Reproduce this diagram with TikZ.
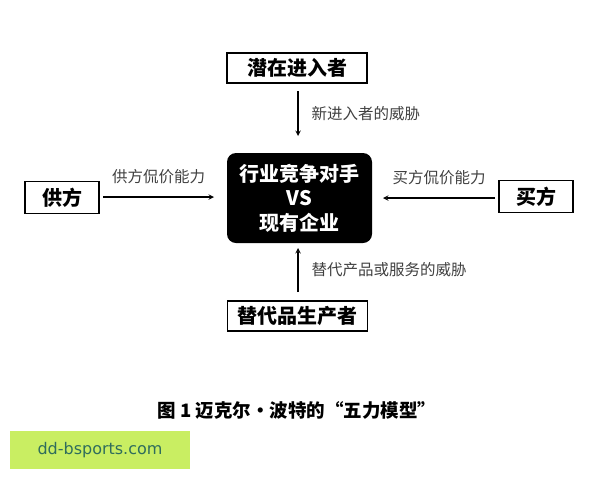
\documentclass[tikz,border=0pt]{standalone}
\usepackage{fontspec}
\newfontfamily\cjk{Noto Sans CJK SC}
\setmainfont{Noto Sans CJK SC}
\usetikzlibrary{arrows, shapes, positioning}
\definecolor{tagbg}{HTML}{C9EE62}
\definecolor{tagfg}{HTML}{2F6D5C}

\begin{document}
\begin{tikzpicture}[x=1pt, y=-1pt, >=stealth,
    force/.style={draw, line width=1.6pt, minimum width=140pt, minimum height=30pt, inner sep=0pt, font=\cjk\bfseries\fontsize{20}{21}\selectfont},
    side/.style={force, minimum width=74pt, minimum height=32pt},
    core/.style={fill=black, text=white, rounded corners=9pt, minimum width=145pt, minimum height=90pt, align=center, font=\cjk\bfseries\fontsize{20}{24.5}\selectfont},
    flow/.style={->, line width=1.4pt},
    lbl/.style={font=\cjk\fontsize{15.5}{16}\selectfont, text=black!75, inner sep=0pt}]
  \useasboundingbox (0,0) rectangle (600,480);

  % Nodes
  \node[force] (new) at (297,68) {潜在进入者};
  \node[core] (rival) at (299.5,198) {行业竞争对手\\VS\\现有企业};
  \node[side] (sup) at (62,197.5) {供方};
  \node[side] (buy) at (536,196.5) {买方};
  \node[force] (sub) at (297.5,316) {替代品生产者};
  \coordinate (newend) at (298,91);
  \coordinate (subend) at (298,292);
  \coordinate (supend) at (103,197);
  \coordinate (buyend) at (495,198);

  % Edges
  \draw[flow] (newend) -- (298,136) node[lbl, midway, right=13pt] {新进入者的威胁};
  \draw[flow] (subend) -- (298,248) node[lbl, midway, right=13pt] {替代产品或服务的威胁};
  \draw[flow] (supend) -- (214,197) node[lbl, midway, above=12pt] {供方侃价能力};
  \draw[flow] (buyend) -- (383,198) node[lbl, midway, above=12pt] {买方侃价能力};

  % Caption
  \node[font=\cjk\bfseries\fontsize{18.5}{19}\selectfont, anchor=west] (cap) at (154,410) {图 1 迈克尔·波特的“五力模型”};

  % Tag
  \node[fill=tagbg, minimum width=180pt, minimum height=38pt, inner sep=0pt, text=tagfg, font=\fontspec{DejaVu Sans}\fontsize{16}{17}\selectfont] (tag) at (100,450) {dd-bsports.com};
\end{tikzpicture}
\end{document}
